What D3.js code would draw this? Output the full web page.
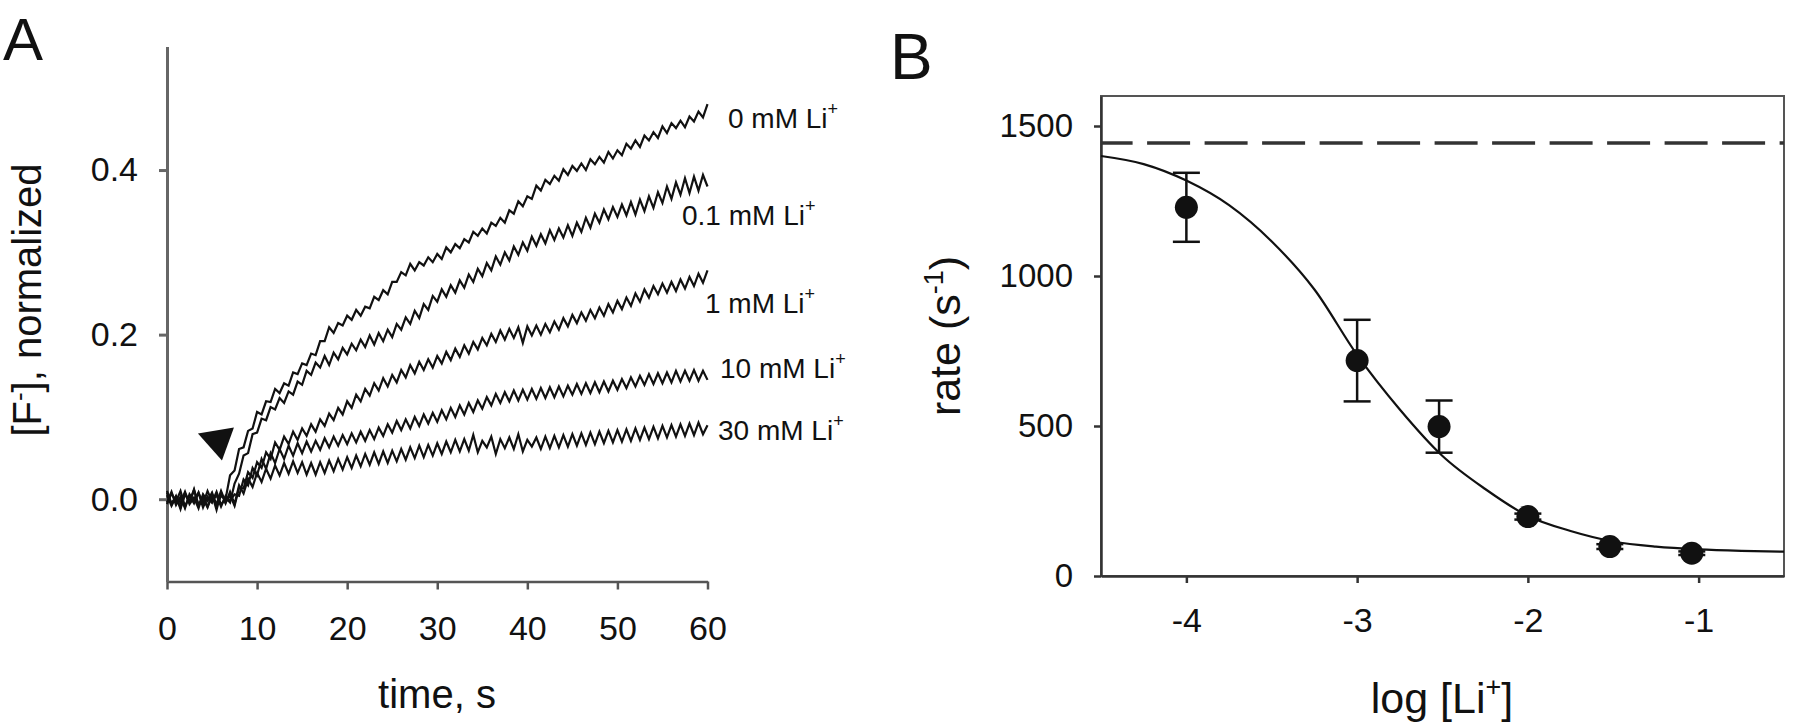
<!DOCTYPE html>
<html><head><meta charset="utf-8">
<script src="https://cdn.jsdelivr.net/npm/d3@7"></script>
<style>body{margin:0;background:#fff}svg{display:block}text{font-family:"Liberation Sans",Arial,sans-serif;fill:#111}</style>
</head><body><svg id="c" width="1800" height="725"></svg>
<script>
// ---------- Panel A data ----------
const traceTimeStep = 0.5; // seconds between samples, first sample at t = 0
const traceLabels = ["0 mM Li", "0.1 mM Li", "1 mM Li", "10 mM Li", "30 mM Li"];
const trace0mM = [.005,-.008,.003,-.004,.009,-.006,.002,-.011,.006,-.002,.008,-.007,.004,.000,.029,.035,.061,.063,.083,.086,.106,.103,.119,.118,.134,.129,.141,.138,.154,.152,.165,.163,.177,.175,.192,.192,.209,.202,.214,.211,.223,.218,.230,.223,.234,.232,.246,.242,.254,.249,.264,.264,.276,.272,.286,.278,.288,.284,.294,.288,.298,.292,.306,.300,.310,.305,.316,.312,.325,.320,.329,.323,.336,.332,.342,.336,.351,.347,.362,.356,.368,.365,.381,.375,.388,.383,.393,.387,.401,.394,.405,.399,.408,.400,.413,.407,.416,.409,.422,.414,.424,.418,.432,.426,.436,.428,.442,.436,.446,.439,.453,.445,.457,.451,.460,.452,.465,.459,.471,.464,.480];
const trace01mM = [-.006,.007,-.003,.010,-.009,.004,-.005,.008,-.010,.003,-.004,.009,-.007,.002,-.004,.019,.031,.053,.056,.079,.081,.098,.096,.112,.109,.123,.117,.131,.127,.143,.139,.156,.151,.166,.160,.174,.163,.178,.170,.184,.176,.189,.181,.194,.185,.199,.188,.202,.192,.206,.197,.213,.206,.221,.213,.229,.220,.237,.230,.247,.240,.255,.246,.260,.251,.266,.257,.273,.264,.280,.271,.287,.278,.295,.285,.300,.290,.307,.297,.312,.302,.319,.308,.322,.311,.327,.315,.329,.318,.333,.320,.336,.325,.342,.330,.347,.336,.352,.340,.355,.343,.358,.345,.361,.346,.364,.350,.368,.354,.373,.360,.380,.365,.385,.370,.390,.372,.392,.375,.394,.380];
const trace1mM = [.008,-.005,.002,-.010,.006,-.003,.011,-.007,.004,-.009,.003,-.006,.010,-.004,.005,-.008,.014,.013,.033,.026,.045,.038,.057,.049,.069,.060,.076,.067,.082,.072,.086,.077,.091,.082,.097,.089,.104,.096,.111,.103,.119,.111,.127,.119,.134,.126,.141,.132,.147,.137,.151,.142,.157,.148,.163,.153,.167,.157,.170,.160,.174,.165,.179,.169,.183,.173,.187,.177,.191,.182,.196,.187,.201,.191,.205,.194,.207,.196,.209,.190,.210,.199,.211,.200,.213,.203,.216,.206,.220,.210,.224,.214,.227,.217,.230,.220,.233,.223,.237,.227,.241,.231,.245,.235,.250,.240,.255,.245,.259,.249,.262,.251,.264,.253,.267,.256,.270,.259,.274,.263,.278];
const trace10mM = [-.004,.009,-.007,.003,-.011,.006,-.002,.008,-.006,.010,-.003,.005,-.009,.004,-.002,.006,.004,.024,.017,.038,.029,.049,.037,.056,.044,.061,.049,.065,.053,.068,.056,.070,.058,.071,.060,.074,.063,.076,.065,.078,.067,.080,.069,.082,.071,.084,.073,.087,.077,.091,.081,.095,.084,.097,.086,.100,.089,.103,.092,.105,.094,.108,.097,.111,.100,.114,.103,.117,.106,.120,.110,.124,.114,.128,.117,.130,.119,.132,.120,.133,.121,.134,.122,.135,.123,.136,.124,.137,.125,.138,.127,.140,.128,.141,.129,.142,.130,.143,.131,.144,.133,.146,.135,.148,.137,.150,.139,.152,.140,.153,.141,.154,.142,.156,.143,.156,.144,.157,.144,.156,.145];
const trace30mM = [.010,-.006,.004,-.012,.007,-.004,.012,-.008,.001,-.010,.006,-.013,.008,-.005,.009,-.006,.017,.007,.025,.015,.032,.021,.037,.025,.041,.029,.044,.031,.046,.032,.045,.030,.044,.030,.045,.032,.047,.034,.049,.036,.051,.038,.053,.040,.055,.042,.057,.043,.058,.044,.059,.046,.061,.048,.063,.050,.065,.051,.066,.053,.068,.055,.070,.057,.072,.058,.073,.059,.078,.057,.071,.063,.076,.055,.073,.062,.075,.061,.079,.058,.072,.064,.075,.061,.076,.062,.077,.063,.078,.064,.079,.065,.080,.066,.081,.067,.082,.068,.083,.069,.084,.070,.085,.071,.086,.072,.087,.073,.088,.074,.089,.075,.090,.076,.091,.077,.092,.078,.093,.079,.090];
const traces = [trace0mM, trace01mM, trace1mM, trace10mM, trace30mM];
const timeTicks = [0, 10, 20, 30, 40, 50, 60];
const fTicks = [0.0, 0.2, 0.4];
const arrowTime = 6.1, arrowValue = 0.047; // tip of the injection arrowhead

// ---------- Panel B data ----------
const logLi = [-4, -3, -2.52, -2, -1.52, -1.04];
const rateMean = [1229, 718, 498, 198, 98, 76];
const rateErr = [115, 136, 87, 10, 8, 6];
const fitLog = [-4.5,-4.25,-4,-3.75,-3.5,-3.25,-3,-2.75,-2.5,-2.25,-2,-1.75,-1.5,-1.25,-1,-0.75,-0.5];
const fitRate = [1400,1373,1318,1236,1115,955,737,555,400,290,200,150,115,98,89,84,81];
const maxRate = 1443;
const logTicks = [-4, -3, -2, -1];
const rateTicks = [0, 500, 1000, 1500];

// ---------- layout ----------
const svg = d3.select("#c");
const xA = d3.scaleLinear().domain([0, 60]).range([167, 707.5]);
const yA = d3.scaleLinear().domain([-0.1, 0.55]).range([581.5, 46.6]);
const xB = d3.scaleLinear().domain([-4.5, -0.5]).range([1101, 1784]);
const yB = d3.scaleLinear().domain([0, 1600]).range([576, 96]);

function styleAxis(g, color, w, fs) {
  g.select(".domain").attr("stroke", color).attr("stroke-width", w);
  g.selectAll(".tick line").attr("stroke", color).attr("stroke-width", w);
  g.selectAll(".tick text").attr("font-size", fs).attr("fill", "#111")
    .attr("font-family", "'Liberation Sans',Arial,sans-serif");
}

// Panel A axes
const gxA = svg.append("g").attr("transform", `translate(0,${yA(-0.1)})`)
  .call(d3.axisBottom(xA).tickValues(timeTicks).tickSize(8).tickSizeOuter(0).tickPadding(26).tickFormat(d => String(d)));
styleAxis(gxA, "#555", 2.5, 34);
const gyA = svg.append("g").attr("transform", `translate(${xA(0)},0)`)
  .call(d3.axisLeft(yA).tickValues(fTicks).tickSize(8).tickSizeOuter(0).tickPadding(21).tickFormat(d3.format(".1f")));
styleAxis(gyA, "#666", 3, 34);

// traces
const lineA = d3.line().x((d, i) => xA(i * traceTimeStep)).y(d => yA(d)).curve(d3.curveLinear);
svg.append("g").selectAll("path").data(traces).join("path")
  .attr("d", lineA).attr("fill", "none").attr("stroke", "#111").attr("stroke-width", 2.2)
  .attr("stroke-linejoin", "miter");

// arrowhead
const ax = xA(arrowTime), ay = yA(arrowValue);
svg.append("path").attr("d", `M${ax},${ay}L${ax - 24},${ay - 27}L${ax + 12},${ay - 33}Z`).attr("fill", "#111");

// trace labels
const labelX = [728, 682, 705, 720, 718];
const labelY = [128, 225, 313, 378, 440];
const lab = svg.append("g");
traceLabels.forEach((s, i) => {
  const t = lab.append("text").attr("x", labelX[i]).attr("y", labelY[i])
    .attr("font-family", "'Open Sans',sans-serif").attr("font-size", 28);
  t.append("tspan").text(s);
  t.append("tspan").attr("dy", -13).attr("font-size", 18).text("+");
});

// Panel A titles
svg.append("text").attr("x", 3).attr("y", 60).attr("font-size", 60).text("A");
svg.append("text").attr("x", 437).attr("y", 708).attr("text-anchor", "middle").attr("font-size", 40).text("time, s");
{
  const t = svg.append("text").attr("transform", "translate(41,300) rotate(-90)")
    .attr("text-anchor", "middle").attr("font-size", 40);
  t.append("tspan").text("[F");
  t.append("tspan").attr("dy", -13).attr("font-size", 26).text("-");
  t.append("tspan").attr("dy", 13).text("], normalized");
}

// Panel B frame
svg.append("rect").attr("x", xB(-4.5)).attr("y", yB(1600))
  .attr("width", xB(-0.5) - xB(-4.5)).attr("height", yB(0) - yB(1600))
  .attr("fill", "none").attr("stroke", "#555").attr("stroke-width", 2);
const gxB = svg.append("g").attr("transform", `translate(0,${yB(0)})`)
  .call(d3.axisBottom(xB).tickValues(logTicks).tickSize(7).tickSizeOuter(0).tickPadding(25).tickFormat(d => String(d)));
styleAxis(gxB, "#333", 2.5, 34);
const gyB = svg.append("g").attr("transform", `translate(${xB(-4.5)},0)`)
  .call(d3.axisLeft(yB).tickValues(rateTicks).tickSize(7).tickSizeOuter(0).tickPadding(21).tickFormat(d => String(d)));
styleAxis(gyB, "#333", 2.5, 33);

// dashed maximum-rate line
svg.append("line").attr("x1", xB(-4.5)).attr("x2", xB(-0.5)).attr("y1", yB(maxRate)).attr("y2", yB(maxRate))
  .attr("stroke", "#333").attr("stroke-width", 3.5).attr("stroke-dasharray", "43,14.5").attr("stroke-dashoffset", 11.4);

// fit curve
const fitPts = fitLog.map((x, i) => [x, fitRate[i]]);
svg.append("path").datum(fitPts)
  .attr("d", d3.line().x(d => xB(d[0])).y(d => yB(d[1])).curve(d3.curveMonotoneX))
  .attr("fill", "none").attr("stroke", "#111").attr("stroke-width", 2.2);

// error bars and points
const pts = logLi.map((x, i) => ({x, y: rateMean[i], e: rateErr[i]}));
const eb = svg.append("g").attr("stroke", "#111").attr("stroke-width", 2.5);
pts.forEach(p => {
  const cx = xB(p.x);
  eb.append("line").attr("x1", cx).attr("x2", cx).attr("y1", yB(p.y - p.e)).attr("y2", yB(p.y + p.e));
  [p.y - p.e, p.y + p.e].forEach(v => eb.append("line").attr("x1", cx - 13.5).attr("x2", cx + 13.5).attr("y1", yB(v)).attr("y2", yB(v)));
});
svg.append("g").selectAll("circle").data(pts).join("circle")
  .attr("cx", d => xB(d.x)).attr("cy", d => yB(d.y)).attr("r", 11.5).attr("fill", "#111");

// Panel B titles
svg.append("text").attr("x", 890).attr("y", 79).attr("font-size", 64).text("B");
{
  const t = svg.append("text").attr("x", 1442).attr("y", 713).attr("text-anchor", "middle").attr("font-size", 43);
  t.append("tspan").text("log [Li");
  t.append("tspan").attr("dy", -17).attr("font-size", 27).text("+");
  t.append("tspan").attr("dy", 17).text("]");
}
{
  const t = svg.append("text").attr("transform", "translate(960,336) rotate(-90)")
    .attr("text-anchor", "middle").attr("font-size", 43);
  t.append("tspan").text("rate (s");
  t.append("tspan").attr("dy", -17).attr("font-size", 27).text("-1");
  t.append("tspan").attr("dy", 17).text(")");
}
</script></body></html>
